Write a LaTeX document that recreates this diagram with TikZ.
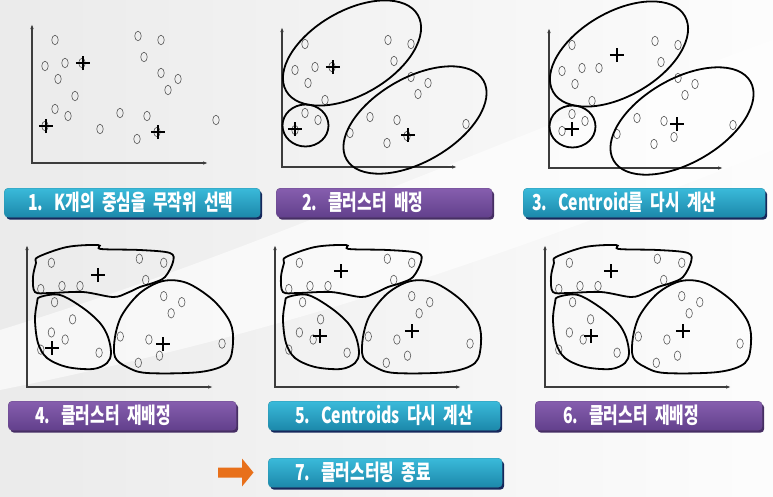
\documentclass[tikz,border=0pt]{standalone}
\usepackage{fontspec}
\newfontfamily\krfont{Noto Sans CJK KR}[FakeStretch=0.72, WordSpace=0.6]
\usetikzlibrary{arrows.meta,shapes.geometric,shapes.misc,shadows}

\definecolor{tealtop}{RGB}{58,186,218}
\definecolor{tealbottom}{RGB}{28,136,170}
\definecolor{tealshadow}{RGB}{22,40,92}
\definecolor{purpletop}{RGB}{134,94,174}
\definecolor{purplebottom}{RGB}{98,64,140}
\definecolor{purpleshadow}{RGB}{70,46,100}
\definecolor{arroworange}{RGB}{232,112,26}
\definecolor{axisgray}{RGB}{60,60,60}

% data points relative to the axis origin (y up)
\newcommand\kmpoints{23/123, 106/127, 129/123, 13/97, 33/100, 50/100, 112/106,
  26/84, 129/90, 146/84, 136/73, 43/67, 23/54, 36/47, 88/50, 115/47, 184/43,
  13/37, 68/34, 105/24, 125/31}

\begin{document}
\begin{tikzpicture}[
        x=1pt, y=-1pt,
        >=Latex,
        datapt/.style={ellipse, draw=black!65, line width=0.6pt, minimum width=6.5pt, minimum height=9.5pt, inner sep=0pt},
        centroid/.style={cross out, draw=black, line width=1.7pt, minimum size=8.5pt, inner sep=0pt, rotate=45},
        axisline/.style={draw=axisgray, line width=1.1pt, {Latex[length=5pt,width=3.5pt]}-{Latex[length=5pt,width=3.5pt]}},
        clusterline/.style={draw=black, line width=1.8pt},
        bar/.style={rounded corners=4pt, minimum height=29pt, anchor=north west, text=white, align=left, inner ysep=0pt,
            font=\krfont\bfseries\fontsize{22}{22}\selectfont},
        tealbar/.style={bar, top color=tealtop, bottom color=tealbottom, draw=tealtop!80!black, line width=0.4pt,
            drop shadow={shadow xshift=2pt, shadow yshift=-2.5pt, fill=tealshadow, opacity=1}},
        purplebar/.style={bar, top color=purpletop, bottom color=purplebottom, draw=purpletop!80!black, line width=0.4pt,
            drop shadow={shadow xshift=2pt, shadow yshift=-2.5pt, fill=purpleshadow, opacity=1}}
    ]
        \useasboundingbox (0,0) rectangle (773,496);
        \shade[left color=black!8, right color=black!1] (0,0) rectangle (773,496);
        \fill[white, opacity=0.6] (0,330) .. controls (260,250) and (470,150) .. (773,40)
            -- (773,150) .. controls (520,250) and (300,330) .. (0,390) -- cycle;

        % row 1: panels 1 to 3
        \begin{scope}[shift={(32,163)}, yscale=-1]
            \draw[axisline] (0,139) -- (0,0) -- (176,0);
            \foreach \x/\y [count=\i] in \kmpoints
                \node[datapt] (pa-\i) at (\x,\y) {};
            \node[centroid] (ca-1) at (51,100) {};
            \node[centroid] (ca-2) at (14,37) {};
            \node[centroid] (ca-3) at (126,31) {};
        \end{scope}

        \begin{scope}[shift={(282,167)}, yscale=-1]
            \draw[axisline] (0,140) -- (0,0) -- (175,0);
            \foreach \x/\y [count=\i] in \kmpoints
                \node[datapt] (pb-\i) at (\x,\y) {};
            \draw[clusterline, rotate around={-30:(70,114)}] (70,114) ellipse [x radius=76, y radius=42];
            \draw[clusterline] (23.5,41.5) ellipse [x radius=23, y radius=21];
            \draw[clusterline, rotate around={-30:(133,47)}] (133,47) ellipse [x radius=79, y radius=42];
            \node[centroid] (cb-1) at (51,100) {};
            \node[centroid] (cb-2) at (13,38) {};
            \node[centroid] (cb-3) at (126,32) {};
        \end{scope}

        \begin{scope}[shift={(549,168)}, yscale=-1]
            \draw[axisline] (0,140) -- (0,0) -- (174,0);
            \foreach \x/\y [count=\i] in \kmpoints
                \node[datapt] (pc-\i) at (\x,\y) {};
            \draw[clusterline, rotate around={-30:(70,114)}] (70,114) ellipse [x radius=76, y radius=42];
            \draw[clusterline] (23.5,41.5) ellipse [x radius=23, y radius=21];
            \draw[clusterline, rotate around={-30:(133,47)}] (133,47) ellipse [x radius=79, y radius=42];
            \node[centroid] (cc-1) at (68,113) {};
            \node[centroid] (cc-2) at (23,39) {};
            \node[centroid] (cc-3) at (128,44) {};
        \end{scope}

        % row 2: panels 4 to 6
        \foreach \px/\py/\cx/\cy/\dx/\dy/\ex/\ey [count=\k] in
            {27/387/71/112/25/39/136/43, 275/387/66/116/45/51/137/56, 545/387/66/116/46/51/138/56} {
        \begin{scope}[shift={(\px,\py)}, yscale=-1]
            \draw[axisline] (0,142) -- (0,0) -- (186,0);
            \foreach \x/\y [count=\i] in \kmpoints
                \node[datapt] (pd\k-\i) at ({\x*1.06},{\y*1.01}) {};
            \draw[clusterline] plot[smooth cycle, tension=0.55] coordinates {
                (11,130) (40,140) (71,142) (74,138) (113,137) (143,134) (146,125) (138,110)
                (126,104) (113,100) (100,94) (86,90) (56,95) (23,94) (8,95) (6,110) (9,124)};
            \draw[clusterline] plot[smooth cycle, tension=0.55] coordinates {
                (13,90) (33,92) (56,79) (73,64) (81,50) (84,34) (80,24) (66,18)
                (40,20) (20,29) (11,44) (8,67) (10,84)};
            \draw[clusterline] plot[smooth cycle, tension=0.55] coordinates {
                (88,50) (95,72) (113,94) (136,106) (160,104) (186,87) (203,65) (206,44)
                (200,24) (173,15) (120,14) (100,20) (88,30)};
            \node[centroid] (cd\k-1) at (\cx,\cy) {};
            \node[centroid] (cd\k-2) at (\dx,\dy) {};
            \node[centroid] (cd\k-3) at (\ex,\ey) {};
        \end{scope}
        }

        % step labels
        \node[tealbar, inner xsep=24pt, text width=208pt] (step1) at (4,188) {1. K개의 중심을 무작위 선택};
        \node[purplebar, inner xsep=26pt, text width=164pt] (step2) at (276,188) {2. 클러스터 배정};
        \node[tealbar, inner xsep=9pt, text width=224pt] (step3) at (523,188) {3. Centroid를 다시 계산};
        \node[purplebar, inner xsep=27pt, text width=174pt] (step4) at (8,401) {4. 클러스터 재배정};
        \node[tealbar, inner xsep=27pt, text width=178pt] (step5) at (268,401) {5. Centroids 다시 계산};
        \node[purplebar, inner xsep=28pt, text width=171pt] (step6) at (535,401) {6. 클러스터 재배정};
        \node[tealbar, inner xsep=27pt, text width=180pt] (step7) at (268,458) {7. 클러스터링 종료};

        \fill[arroworange] (218,467.5) -- (242,467.5) -- (242,458.5) -- (253.5,472.5)
            -- (242,486.5) -- (242,477.5) -- (218,477.5) -- cycle;
    \end{tikzpicture}
\end{document}
